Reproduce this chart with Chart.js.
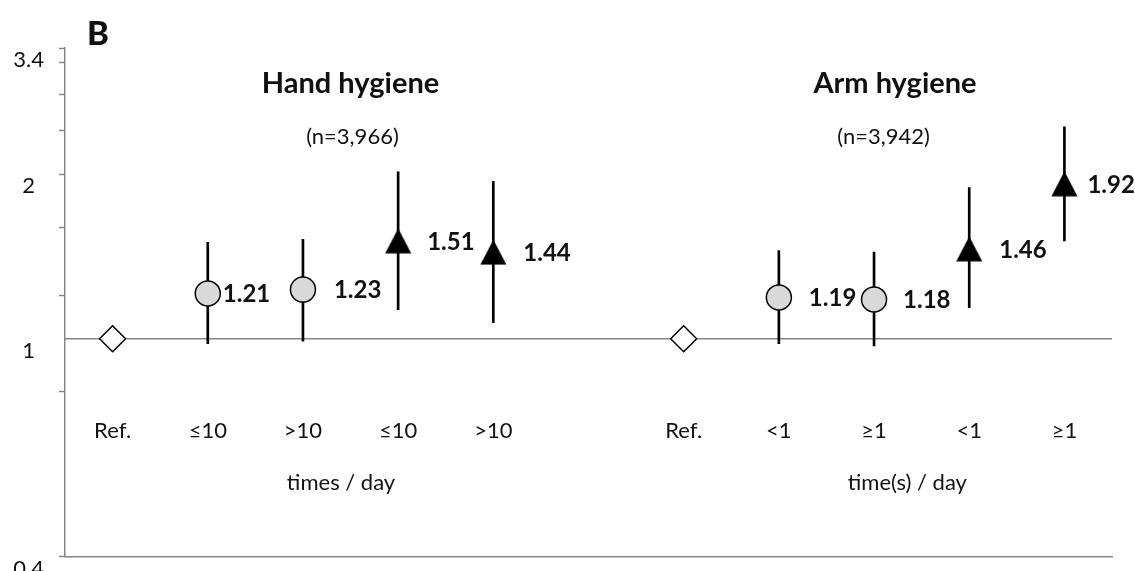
<!DOCTYPE html>
<html>
<head>
<meta charset="utf-8">
<script src="https://cdn.jsdelivr.net/npm/chart.js@4.4.1/dist/chart.umd.min.js"></script>
<style>
  html, body { margin: 0; padding: 0; background: #fff; }
  #wrap { width: 1135px; height: 571px; }
</style>
</head>
<body>
<div id="wrap"><canvas id="chart"></canvas></div>
<script>
// --- Data ---
const categories = ['Ref.', '≤10', '>10', '≤10', '>10', '', 'Ref.', '<1', '≥1', '<1', '≥1'];
const refOR      = [1, null, null, null, null, null, 1, null, null, null, null];
const circleOR   = [null, 1.21, 1.23, null, null, null, null, 1.19, 1.18, null, null];
const triangleOR = [null, null, null, 1.51, 1.44, null, null, null, null, 1.46, 1.92];
const ciLower    = [null, 0.98, 0.99, 1.13, 1.07, null, null, 0.98, 0.97, 1.14, 1.51];
const ciUpper    = [null, 1.50, 1.52, 2.02, 1.94, null, null, 1.45, 1.44, 1.89, 2.44];
const yTicks     = [0.4, 0.8, 1, 1.2, 1.6, 2, 2.4, 2.8, 3.2, 3.4];
const yLabels    = [0.4, 1, 2, 3.4];
const groupTitles = ['Hand hygiene', 'Arm hygiene'];
const groupSizes  = ['(n=3,966)', '(n=3,942)'];
const groupUnits  = ['times / day', 'time(s) / day'];

// --- Style ---
const FONT = "Lato, 'Open Sans', sans-serif";
const AXIS_GREY = '#878787';
const TEXT = '#111';
const labelDx = [0, 15, 31, 29, 30, 0, 0, 30, 29, 30, 23];   // value label offsets (px)
const titleAt = [2.5, 8.22];   // category index where group texts centre
const sizeAt  = [2.52, 8.1];
const unitAt  = [2.4, 8.35];

// triangle drawn as an image so it is centred on the value
function makeTriangle() {
    const c = document.createElement('canvas');
    c.width = 27; c.height = 26;
    const g = c.getContext('2d');
    g.fillStyle = '#000';
    g.beginPath();
    g.moveTo(13.5, 0.5);
    g.lineTo(26.5, 25.5);
    g.lineTo(0.5, 25.5);
    g.closePath();
    g.fill();
    return c;
}

const textPlugin = {
    id: 'texts',
    beforeDatasetsDraw(chart) {
        const { ctx, chartArea, scales } = chart;
        const y1 = scales.y.getPixelForValue(1);
        ctx.save();
        ctx.strokeStyle = AXIS_GREY;
        ctx.lineWidth = 1.5;
        ctx.beginPath();
        ctx.moveTo(chartArea.left, y1);
        ctx.lineTo(chartArea.right, y1);
        ctx.stroke();
        ctx.restore();
    },
    afterDatasetsDraw(chart) {
        const { ctx, chartArea, scales } = chart;
        const xs = scales.x;
        ctx.save();
        ctx.fillStyle = TEXT;

        // value labels next to markers
        ctx.font = `bold 24px ${FONT}`;
        ctx.textAlign = 'left';
        ctx.textBaseline = 'middle';
        chart.data.datasets.forEach((ds, di) => {
            if (!ds.valueLabels) return;
            chart.getDatasetMeta(di).data.forEach((el, i) => {
                const v = ds.data[i];
                if (v == null) return;
                ctx.fillText(v.toFixed(2), el.x + labelDx[i], el.y + 1);
            });
        });

        // panel letter
        ctx.textBaseline = 'alphabetic';
        ctx.font = `900 33px ${FONT}`;
        ctx.fillText('B', 87, 45);

        ctx.textAlign = 'center';
        groupTitles.forEach((t, g) => {
            ctx.font = `bold 29px ${FONT}`;
            ctx.fillText(t, xs.getPixelForValue(titleAt[g]), 93);
            ctx.font = `22px ${FONT}`;
            ctx.fillText(groupSizes[g], xs.getPixelForValue(sizeAt[g]), 144);
            ctx.fillText(groupUnits[g], xs.getPixelForValue(unitAt[g]), chartArea.bottom - 67);
        });

        // category labels inside the plot
        ctx.font = `22px ${FONT}`;
        categories.forEach((c, i) => {
            if (!c) return;
            ctx.fillText(c, xs.getPixelForValue(i), chartArea.bottom - 119);
        });
        ctx.restore();
    }
};

new Chart(document.getElementById('chart'), {
    data: {
        labels: categories,
        datasets: [
            {
                type: 'line',
                data: refOR,
                showLine: false,
                pointStyle: 'rectRot',
                pointRadius: 13,
                pointBackgroundColor: '#fff',
                pointBorderColor: '#000',
                pointBorderWidth: 1.5,
                order: 0
            },
            {
                type: 'line',
                data: circleOR,
                showLine: false,
                pointStyle: 'circle',
                pointRadius: 12.5,
                pointBackgroundColor: '#d9d9d9',
                pointBorderColor: '#000',
                pointBorderWidth: 1.5,
                valueLabels: true,
                order: 0
            },
            {
                type: 'line',
                data: triangleOR,
                showLine: false,
                pointStyle: makeTriangle(),
                valueLabels: true,
                order: 0
            },
            {
                type: 'bar',
                data: ciLower.map((lo, i) => lo == null ? null : [lo, ciUpper[i]]),
                backgroundColor: '#000',
                barThickness: 2,
                borderWidth: 0,
                order: 1
            }
        ]
    },
    options: {
        responsive: true,
        maintainAspectRatio: false,
        animation: false,
        events: [],
        layout: { padding: { top: 48, right: 23, bottom: 7, left: 0 } },
        plugins: { legend: { display: false }, tooltip: { enabled: false } },
        scales: {
            x: {
                type: 'category',
                offset: true,
                ticks: { display: false },
                grid: { drawOnChartArea: false, drawTicks: false },
                border: { display: true, color: AXIS_GREY, width: 1.5 },
                afterFit: (s) => {
                    s.height = 0;
                    s.paddingLeft = s.paddingRight = s.paddingTop = s.paddingBottom = 0;
                }
            },
            y: {
                type: 'logarithmic',
                min: 0.4,
                max: 3.4,
                afterFit: (s) => {
                    s.width = 65;
                    s.paddingLeft = s.paddingRight = s.paddingTop = s.paddingBottom = 0;
                },
                afterBuildTicks: (s) => { s.ticks = yTicks.map(v => ({ value: v })); },
                ticks: {
                    autoSkip: false,
                    crossAlign: 'center',
                    padding: 15,
                    labelOffset: 12,
                    color: TEXT,
                    font: { family: FONT, size: 22 },
                    callback: (v) => yLabels.includes(v) ? String(v) : ''
                },
                grid: {
                    drawOnChartArea: false,
                    tickLength: 6,
                    tickWidth: 1.5,
                    tickColor: (c) => (c.tick && c.tick.value === 1) ? 'rgba(0,0,0,0)' : AXIS_GREY
                },
                border: { display: true, color: AXIS_GREY, width: 1.5 }
            }
        }
    },
    plugins: [textPlugin]
});
</script>
</body>
</html>
